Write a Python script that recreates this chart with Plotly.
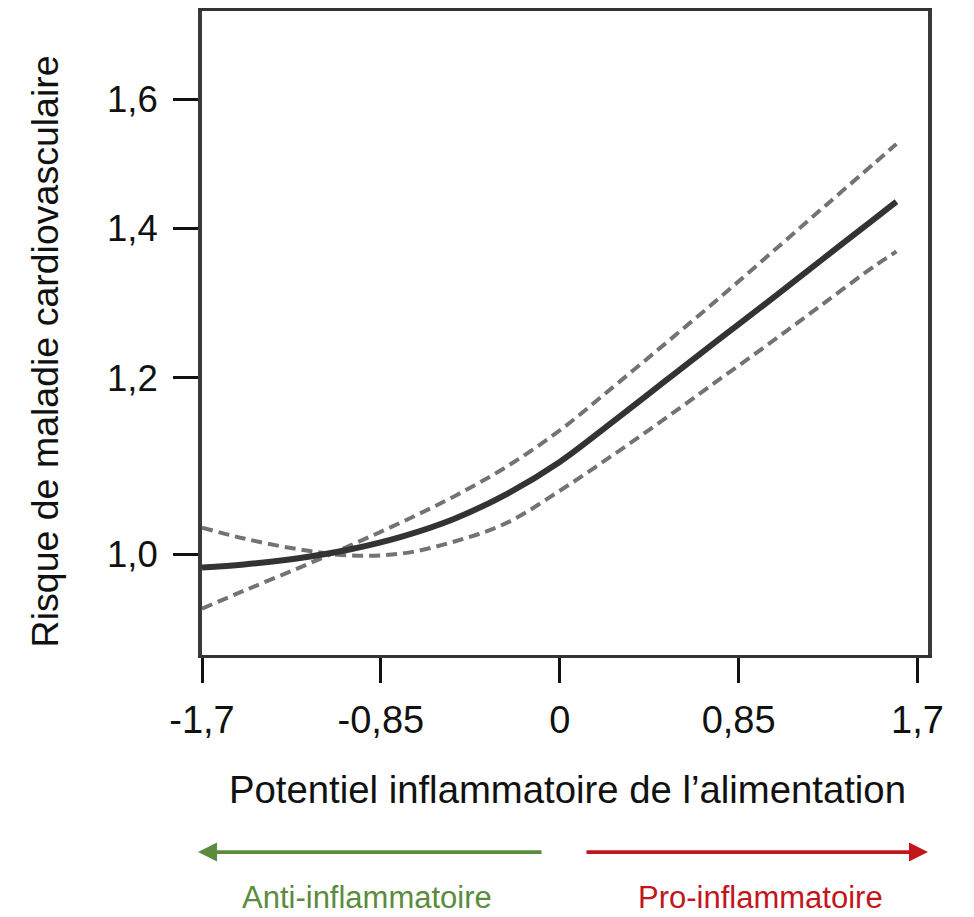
import plotly.graph_objects as go
import numpy as np

# ---- data ----
dii = [-1.7, -1.5, -1.25, -1.0, -0.75, -0.5, -0.25, 0.0, 0.25, 0.5, 0.75, 1.0, 1.25, 1.5, 1.6]
risk = [0.9867, 0.9898, 0.9959, 1.0052, 1.0187, 1.0377, 1.0647, 1.1003, 1.1465, 1.1960,
        1.2474, 1.3005, 1.3569, 1.4155, 1.4397]
ci_a = [1.0282, 1.0166, 1.0057, 0.9990, 1.0010, 1.0135, 1.0334, 1.0680, 1.1077, 1.1506,
        1.1966, 1.2442, 1.2952, 1.3479, 1.3674]
ci_b = [0.9456, 0.9633, 0.9853, 1.0089, 1.0341, 1.0621, 1.0953, 1.1367, 1.1881, 1.2430,
        1.3013, 1.3641, 1.4303, 1.4994, 1.5282]

x_tickvals = [-1.7, -0.85, 0, 0.85, 1.7]
x_ticktext = ["-1,7", "-0,85", "0", "0,85", "1,7"]
y_tickvals = [1.0, 1.2, 1.4, 1.6]
y_ticktext = ["1,0", "1,2", "1,4", "1,6"]

FONT = "Liberation Sans, Arial, Helvetica, sans-serif"
GREEN = "#5b8b3c"
RED = "#c3161c"

fig = go.Figure()
for ys in (ci_a, ci_b):
    fig.add_trace(go.Scatter(x=dii, y=ys, mode="lines",
                             line=dict(color="#737373", width=4, dash="11px,6px", shape="spline"),
                             showlegend=False, hoverinfo="skip"))
fig.add_trace(go.Scatter(x=dii, y=risk, mode="lines",
                         line=dict(color="#333333", width=6, shape="spline"),
                         showlegend=False))

fig.update_layout(
    width=974, height=917,
    margin=dict(l=202, r=46, t=8, b=262),
    paper_bgcolor="white", plot_bgcolor="white",
    font=dict(family=FONT, color="#111111"),
    xaxis=dict(range=[-1.7, 1.75], tickvals=x_tickvals, ticktext=x_ticktext,
               showgrid=False, zeroline=False, showline=True, linewidth=3, linecolor="#333333",
               mirror=True, ticks="outside", ticklen=25, tickwidth=3, tickcolor="#111111",
               ticklabelstandoff=4,
               tickfont=dict(size=38, family=FONT, color="#111111")),
    yaxis=dict(type="log", range=[np.log10(0.9014), np.log10(1.753)],
               tickvals=y_tickvals, ticktext=y_ticktext,
               showgrid=False, zeroline=False, showline=True, linewidth=4, linecolor="#3a3a3a",
               mirror=True, ticks="outside", ticklen=25, tickwidth=3, tickcolor="#111111",
               ticklabelstandoff=8,
               tickfont=dict(size=36.5, family=FONT, color="#111111")),
)

annots = [
    dict(text="Risque de maladie cardiovasculaire", x=-0.2163, y=0.4714, xref="paper", yref="paper",
         textangle=-90, showarrow=False, font=dict(size=37.5, family=FONT, color="#111111"),
         xanchor="center", yanchor="middle"),
    dict(text="Potentiel inflammatoire de l\u2019alimentation", x=0.5028, y=-0.2087,
         xref="paper", yref="paper", showarrow=False,
         font=dict(size=38.3, family=FONT, color="#111111"), xanchor="center", yanchor="middle"),
    dict(text="", x=(198 - 202) / 726, y=(655 - 853) / 647, xref="paper", yref="paper",
         showarrow=True, ax=345, ay=0, arrowhead=2, arrowsize=1, arrowwidth=3.8, arrowcolor=GREEN),
    dict(text="", x=(928 - 202) / 726, y=(655 - 853) / 647, xref="paper", yref="paper",
         showarrow=True, ax=-343, ay=0, arrowhead=2, arrowsize=1, arrowwidth=3.8, arrowcolor=RED),
    dict(text="Anti-inflammatoire", x=(367 - 202) / 726, y=(655 - 899) / 647, xref="paper",
         yref="paper", showarrow=False, font=dict(size=31, family=FONT, color=GREEN),
         xanchor="center", yanchor="middle"),
    dict(text="Pro-inflammatoire", x=(760 - 202) / 726, y=(655 - 899) / 647, xref="paper",
         yref="paper", showarrow=False, font=dict(size=31, family=FONT, color=RED),
         xanchor="center", yanchor="middle"),
]
fig.update_layout(annotations=annots)

fig.write_html("out.html")
